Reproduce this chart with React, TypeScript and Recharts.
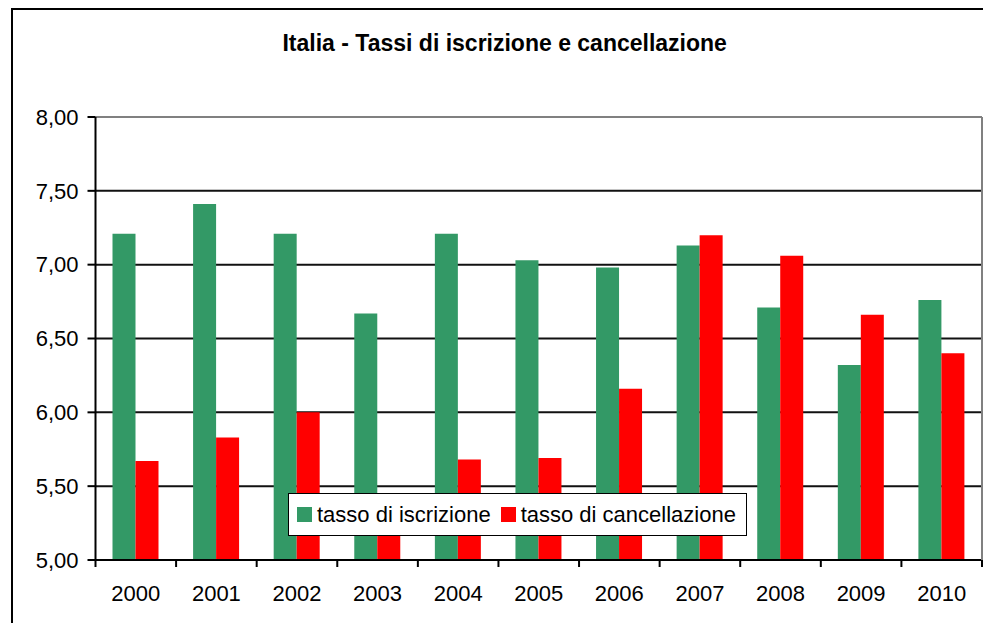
import React from "react";
import {
  BarChart,
  Bar,
  XAxis,
  YAxis,
  CartesianGrid,
  ReferenceLine,
  Legend,
} from "recharts";

const years = ["2000", "2001", "2002", "2003", "2004", "2005", "2006", "2007", "2008", "2009", "2010"];
const iscrizione = [7.21, 7.41, 7.21, 6.67, 7.21, 7.03, 6.98, 7.13, 6.71, 6.32, 6.76];
const cancellazione = [5.67, 5.83, 6.0, 5.4, 5.68, 5.69, 6.16, 7.2, 7.06, 6.66, 6.4];
const seriesNames = ["tasso di iscrizione", "tasso di cancellazione"];
const yTicks = [5, 5.5, 6, 6.5, 7, 7.5, 8];

const GREEN = "#339966";
const RED = "#FF0000";
const FONT = "'Liberation Sans', Arial, sans-serif";

const data = years.map((year, i) => ({
  year,
  iscrizione: iscrizione[i],
  cancellazione: cancellazione[i],
}));

const fmt = (v: number) => v.toFixed(2).replace(".", ",");

// category label plus a tick mark on the boundary between categories
const YearTick = (props: any) => {
  const { x, y, payload, index } = props;
  const half = payload && payload.offset ? payload.offset : 40.3;
  const axisY = y - 25;
  return (
    <g>
      <line x1={x - half} x2={x - half} y1={axisY} y2={axisY + 7} stroke="#000" strokeWidth={2} />
      {index === years.length - 1 && (
        <line x1={x + half} x2={x + half} y1={axisY} y2={axisY + 7} stroke="#000" strokeWidth={2} />
      )}
      <text x={x} y={y} dy="0.71em" textAnchor="middle" fontSize={22} fontFamily={FONT} fill="#000">
        {payload.value}
      </text>
    </g>
  );
};

const LegendBox = (props: any) => {
  const items = [...(props.payload || [])].sort(
    (a: any, b: any) => seriesNames.indexOf(a.value) - seriesNames.indexOf(b.value)
  );
  return (
    <div
      style={{
        display: "flex",
        alignItems: "center",
        border: "1.5px solid #000",
        background: "#fff",
        height: 43,
        padding: "0 10px 0 8px",
        fontFamily: FONT,
        fontSize: 22,
        color: "#000",
        boxSizing: "border-box",
        whiteSpace: "nowrap",
      }}>
      {items.map((it: any, i: number) => (
        <span key={i} style={{ display: "flex", alignItems: "center", marginLeft: i ? 10 : 0 }}>
          <span style={{ width: 15, height: 15, background: it.color, marginRight: 5 }} />
          {it.value}
        </span>
      ))}
    </div>
  );
};

export default function App() {
  return (
    <div
      style={{
        position: "fixed",
        left: 0,
        top: 0,
        width: 983,
        height: 623,
        overflow: "hidden",
        background: "#fff",
      }}>
      <div
        style={{
          position: "absolute",
          left: 11,
          top: 8,
          width: 972,
          height: 615,
          borderLeft: "2px solid #000",
          borderTop: "2px solid #000",
          boxSizing: "border-box",
        }}
      />
      <div
        style={{
          position: "absolute",
          left: 504.7,
          top: 31.5,
          transform: "translateX(-50%)",
          fontFamily: FONT,
          fontWeight: "bold",
          fontSize: 23,
          lineHeight: 1,
          whiteSpace: "nowrap",
          color: "#000",
        }}>
        Italia - Tassi di iscrizione e cancellazione
      </div>
      <div style={{ position: "absolute", left: 8, top: 8 }}>
        <BarChart
          width={975}
          height={615}
          data={data}
          margin={{ top: 109, right: 0, bottom: 0, left: 0 }}
          barCategoryGap={17}
          barGap={0}>
          <CartesianGrid
            vertical={false}
            horizontalValues={[5.5, 6, 6.5, 7, 7.5]}
            stroke="#111"
            strokeWidth={2}
          />
          <XAxis
            dataKey="year"
            height={63}
            tickLine={false}
            tickSize={7}
            tickMargin={18}
            axisLine={{ stroke: "#000", strokeWidth: 2 }}
            tick={<YearTick />}
            interval={0}
          />
          <YAxis
            domain={[5, 8]}
            ticks={yTicks}
            width={87.5}
            tickFormatter={fmt}
            tickSize={8}
            tickMargin={9}
            tickLine={{ stroke: "#000", strokeWidth: 2 }}
            axisLine={{ stroke: "#000", strokeWidth: 2 }}
            tick={{ fill: "#000", fontSize: 22, fontFamily: FONT }}
            interval={0}
          />
          <YAxis
            yAxisId="r"
            orientation="right"
            domain={[5, 8]}
            width={1}
            tick={false}
            tickLine={false}
            axisLine={{ stroke: "#808080", strokeWidth: 2 }}
          />
          <ReferenceLine y={8} stroke="#808080" strokeWidth={2} />
          <Bar dataKey="iscrizione" name={seriesNames[0]} fill={GREEN} isAnimationActive={false} />
          <Bar dataKey="cancellazione" name={seriesNames[1]} fill={RED} isAnimationActive={false} />
          <Legend
            layout="horizontal"
            verticalAlign="middle"
            align="center"
            content={<LegendBox />}
            wrapperStyle={{ left: 280, top: 485, width: "auto", height: "auto" }}
          />
        </BarChart>
      </div>
    </div>
  );
}
